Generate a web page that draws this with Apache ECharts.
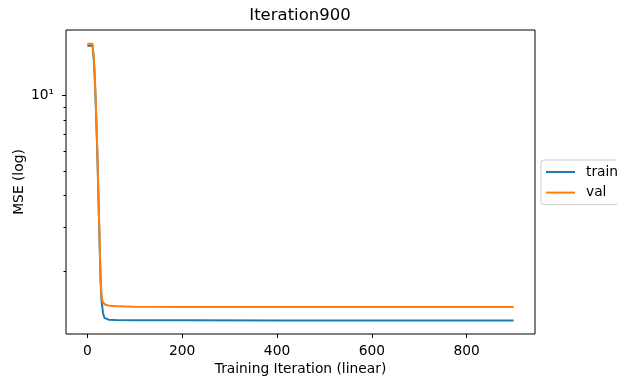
<!DOCTYPE html>
<html>
<head>
<meta charset="utf-8">
<script src="https://cdn.jsdelivr.net/npm/echarts@6/dist/echarts.min.js"></script>
<style>
html,body{margin:0;padding:0;background:#fff;}
#chart{width:617px;height:379px;}
</style>
</head>
<body>
<div id="chart"></div>
<script>
// Data
const trainIters = [0, 11, 12, 14, 16, 18, 21, 25, 28, 30, 33, 36, 40, 45, 60, 100, 200, 400, 600, 800, 899];
const trainMSE   = [15.76, 15.76, 15.6, 13.6, 11.3, 9.0, 5.95, 3.0, 1.82, 1.53, 1.37, 1.31, 1.295, 1.288, 1.283, 1.281, 1.28, 1.279, 1.279, 1.279, 1.279];
const valIters   = [0, 11, 12, 14, 16, 18, 21, 25, 28, 30, 32, 35, 40, 50, 100, 200, 400, 600, 800, 899];
const valMSE     = [16.05, 16.05, 15.8, 13.8, 11.5, 9.15, 6.07, 3.06, 1.85, 1.60, 1.527, 1.492, 1.472, 1.458, 1.45, 1.447, 1.445, 1.445, 1.445, 1.445];
const xTicks = [0, 200, 400, 600, 800];
const yMajorTicks = [10];
const yMinorTicks = [2, 3, 4, 5, 6, 7, 8, 9];

const toPairs = (xs, ys) => xs.map((x, i) => [x, ys[i]]);
const FONT = 'DejaVu Sans';
const Y_MIN = 1.13, Y_MAX = 18.2;

const chart = echarts.init(document.getElementById('chart'), null, {renderer: 'canvas'});
chart.setOption({
  animation: false,
  backgroundColor: '#fff',
  textStyle: {fontFamily: FONT},
  title: {
    text: 'Iteration900',
    left: 300, textAlign: 'center', top: 7, padding: 0,
    textStyle: {fontFamily: FONT, fontSize: 16.5, fontWeight: 'normal', color: '#000'}
  },
  grid: {left: 66, right: 82, top: 30, bottom: 45, outerBoundsMode: 'none', containLabel: false,
    show: true, borderColor: '#000', borderWidth: 1, backgroundColor: 'transparent'},
  legend: {
    orient: 'vertical', left: 541, top: 160,
    padding: [4, 40, 4, 5],
    borderColor: '#ccc', borderWidth: 1, borderRadius: 3, backgroundColor: '#fff',
    itemWidth: 29, itemHeight: 2, itemGap: 4.6, icon: 'rect',
    textStyle: {fontFamily: FONT, fontSize: 13.8, color: '#000', lineHeight: 16, padding: [0, 0, 0, 6]},
    data: ['train', 'val']
  },
  xAxis: {
    type: 'value', min: -45, max: 944,
    name: 'Training Iteration (linear)', nameLocation: 'middle', nameGap: 28,
    nameTextStyle: {fontFamily: FONT, fontSize: 13.8, color: '#000'},
    axisLine: {show: false},
    axisTick: {show: true, length: 4, lineStyle: {color: '#000'}, customValues: xTicks},
    axisLabel: {fontFamily: FONT, fontSize: 13.8, color: '#000', margin: 10, customValues: xTicks},
    splitLine: {show: false}
  },
  yAxis: [{
    type: 'log', logBase: 10, min: Y_MIN, max: Y_MAX,
    name: 'MSE (log)', nameLocation: 'middle', nameGap: 40,
    nameTextStyle: {fontFamily: FONT, fontSize: 13.8, color: '#000'},
    axisLine: {show: false},
    axisTick: {show: false},
    axisLabel: {show: false},
    splitLine: {show: false}
  }, {
    type: 'log', logBase: 10, min: Y_MIN, max: Y_MAX, position: 'left',
    axisLine: {show: false},
    axisTick: {show: true, length: 2.5, lineStyle: {color: '#000'}, customValues: yMinorTicks},
    axisLabel: {show: false},
    splitLine: {show: false}
  }, {
    type: 'log', logBase: 10, min: Y_MIN, max: Y_MAX, position: 'left',
    axisLine: {show: false},
    axisTick: {show: true, length: 4, lineStyle: {color: '#000'}, customValues: yMajorTicks},
    axisLabel: {show: true, fontFamily: FONT, fontSize: 13.8, color: '#000', margin: 12, customValues: yMajorTicks,
      formatter: v => '10\u00B9'},
    splitLine: {show: false}
  }],
  series: [{
    name: 'train', type: 'line', yAxisIndex: 0, showSymbol: false, symbol: 'none',
    data: toPairs(trainIters, trainMSE),
    color: '#1f77b4', lineStyle: {width: 2, color: '#1f77b4'}
  }, {
    name: 'val', type: 'line', yAxisIndex: 0, showSymbol: false, symbol: 'none',
    data: toPairs(valIters, valMSE),
    color: '#ff7f0e', lineStyle: {width: 2, color: '#ff7f0e'}
  }]
});
</script>
</body>
</html>
